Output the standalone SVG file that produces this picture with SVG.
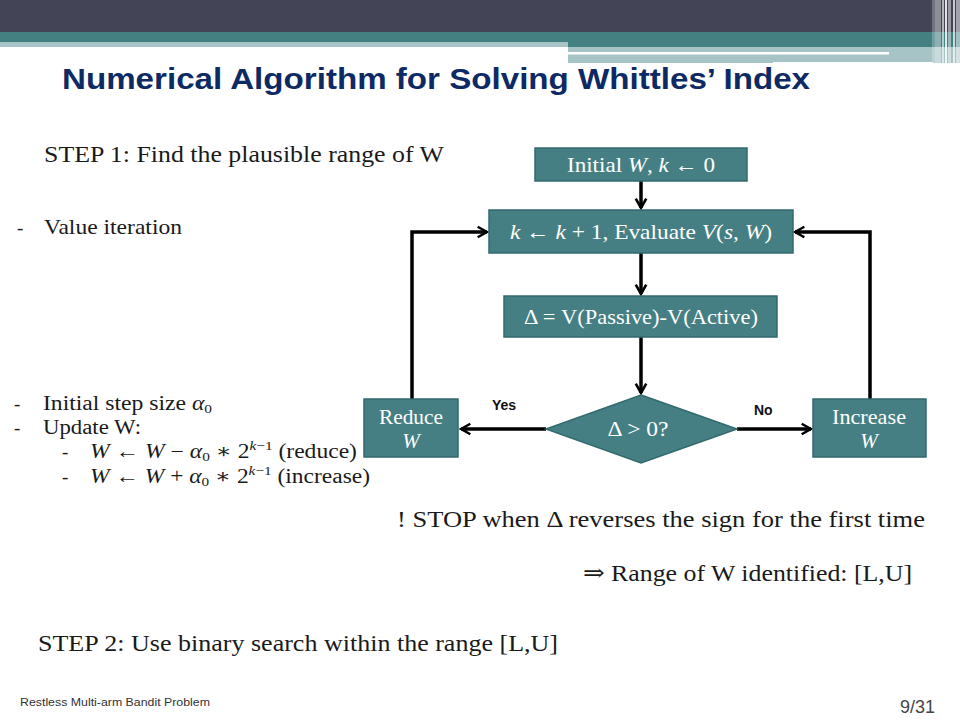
<svg xmlns="http://www.w3.org/2000/svg" width="960" height="720" viewBox="0 0 960 720">
<defs>
<style>
.box{fill:#467F83;stroke:#326A6D;stroke-width:1.5}
.bt{font-family:"Liberation Serif","DejaVu Serif",serif;font-size:21px;fill:#ffffff;text-anchor:middle}
.it{font-style:italic}
.con{fill:none;stroke:#000;stroke-width:3.5}
.txt{font-family:"Liberation Serif","DejaVu Serif",serif;fill:#1a1a1a}
.lbl{font-family:"Liberation Sans","DejaVu Sans",sans-serif;font-weight:bold;font-size:14px;fill:#111}
</style>
<marker id="arr" viewBox="0 0 12 12" refX="10" refY="6" markerWidth="4" markerHeight="4" orient="auto" markerUnits="strokeWidth">
<polyline points="2,1.5 10,6 2,10.5" fill="none" stroke="#000" stroke-width="2.2"/>
</marker>
</defs>
<rect width="960" height="720" fill="#ffffff"/>
<g id="header">
<rect x="0" y="0" width="960" height="32" fill="#434456"/>
<rect x="0" y="32" width="960" height="15" fill="#447F82"/>
<rect x="0" y="42" width="568" height="5" fill="#A6C3C5"/>
<rect x="568" y="47" width="392" height="16" fill="#A6C3C5"/>
<rect x="568" y="52" width="321" height="2.5" fill="#ffffff"/>
<rect x="773" y="62" width="160" height="2" fill="#ffffff"/>
<rect x="932" y="0" width="3" height="64" fill="#ffffff" opacity="0.25"/>
<rect x="935" y="0" width="6" height="64" fill="#ffffff" opacity="0.4"/>
<rect x="942" y="0" width="2" height="64" fill="#ffffff" opacity="0.6"/>
<rect x="945" y="0" width="2" height="64" fill="#ffffff" opacity="0.85"/>
<rect x="948" y="0" width="3" height="64" fill="#ffffff" opacity="0.45"/>
<rect x="953" y="0" width="2" height="64" fill="#ffffff" opacity="0.7"/>
<rect x="956" y="0" width="4" height="64" fill="#ffffff" opacity="0.5"/>
</g>
<text x="62" y="89" font-family="Liberation Sans,Arial,sans-serif" font-weight="bold" font-size="30" fill="#0E2A64" textLength="748" lengthAdjust="spacingAndGlyphs">Numerical Algorithm for Solving Whittles’ Index</text>

<g id="notes" class="txt">
<text x="44" y="162" font-size="24" textLength="400" lengthAdjust="spacingAndGlyphs">STEP 1: Find the plausible range of W</text>
<text x="17" y="234" font-size="19">-</text>
<text x="44" y="234" font-size="21" textLength="138" lengthAdjust="spacingAndGlyphs">Value iteration</text>
<text x="14" y="410" font-size="19">-</text>
<text x="43" y="410" font-size="20" textLength="169" lengthAdjust="spacingAndGlyphs">Initial step size <tspan font-style="italic">α</tspan><tspan font-size="13" dy="3">0</tspan></text>
<text x="14" y="434" font-size="19">-</text>
<text x="43" y="434" font-size="20" textLength="98" lengthAdjust="spacingAndGlyphs">Update W:</text>
<text x="62" y="458" font-size="19">-</text>
<text x="90" y="458" font-size="20" textLength="267" lengthAdjust="spacingAndGlyphs"><tspan font-style="italic">W</tspan> ← <tspan font-style="italic">W</tspan> − <tspan font-style="italic">α</tspan><tspan font-size="13" dy="3">0</tspan><tspan dy="-3"> ∗ 2</tspan><tspan font-size="13" dy="-8"><tspan font-style="italic">k</tspan>−1</tspan><tspan dy="8"> (reduce)</tspan></text>
<text x="62" y="483" font-size="19">-</text>
<text x="90" y="483" font-size="20" textLength="280" lengthAdjust="spacingAndGlyphs"><tspan font-style="italic">W</tspan> ← <tspan font-style="italic">W</tspan> + <tspan font-style="italic">α</tspan><tspan font-size="13" dy="3">0</tspan><tspan dy="-3"> ∗ 2</tspan><tspan font-size="13" dy="-8"><tspan font-style="italic">k</tspan>−1</tspan><tspan dy="8"> (increase)</tspan></text>
<text x="397" y="527" font-size="24" textLength="528" lengthAdjust="spacingAndGlyphs">! STOP when Δ reverses the sign for the first time</text>
<text x="583" y="581" font-size="24" textLength="329" lengthAdjust="spacingAndGlyphs">⇒ Range of W identified: [L,U]</text>
<text x="38" y="651" font-size="24" textLength="520" lengthAdjust="spacingAndGlyphs">STEP 2: Use binary search within the range [L,U]</text>
</g>

<g id="connectors">
<line class="con" x1="641" y1="181" x2="641" y2="208" marker-end="url(#arr)"/>
<line class="con" x1="641" y1="253" x2="641" y2="294" marker-end="url(#arr)"/>
<line class="con" x1="641" y1="337" x2="641" y2="393" marker-end="url(#arr)"/>
<line class="con" x1="546" y1="429" x2="461" y2="429" marker-end="url(#arr)"/>
<line class="con" x1="737" y1="429" x2="811" y2="429" marker-end="url(#arr)"/>
<polyline class="con" points="412,399 412,232 487,232" marker-end="url(#arr)"/>
<polyline class="con" points="870,399 870,232 795,232" marker-end="url(#arr)"/>
<text class="lbl" x="492" y="410">Yes</text>
<text class="lbl" x="754" y="415">No</text>
</g>

<g id="n-init">
<rect class="box" x="535" y="148" width="212" height="33"/>
<text class="bt" x="641" y="172" textLength="148" lengthAdjust="spacingAndGlyphs">Initial <tspan class="it">W</tspan>, <tspan class="it">k</tspan> ← 0</text>
</g>
<g id="n-eval">
<rect class="box" x="489" y="210" width="304" height="43"/>
<text class="bt" x="641" y="239" textLength="262" lengthAdjust="spacingAndGlyphs"><tspan class="it">k</tspan> ← <tspan class="it">k</tspan> + 1, Evaluate <tspan class="it">V</tspan>(<tspan class="it">s</tspan>, <tspan class="it">W</tspan>)</text>
</g>
<g id="n-delta">
<rect class="box" x="504" y="296" width="273" height="41"/>
<text class="bt" x="641" y="324" textLength="234" lengthAdjust="spacingAndGlyphs">Δ = V(Passive)-V(Active)</text>
</g>
<g id="n-decision">
<polygon class="box" points="641,395 737,429 641,463 546,429"/>
<text class="bt" x="638" y="436" textLength="61" lengthAdjust="spacingAndGlyphs">Δ &gt; 0?</text>
</g>
<g id="n-reduce">
<rect class="box" x="364" y="399" width="94" height="58"/>
<text class="bt" x="411" y="424" textLength="64" lengthAdjust="spacingAndGlyphs">Reduce</text>
<text class="bt it" x="411" y="448">W</text>
</g>
<g id="n-increase">
<rect class="box" x="813" y="399" width="113" height="58"/>
<text class="bt" x="869" y="424" textLength="74" lengthAdjust="spacingAndGlyphs">Increase</text>
<text class="bt it" x="869" y="448">W</text>
</g>

<g id="footer">
<text x="20" y="706" font-family="Liberation Sans,Arial,sans-serif" font-size="11" fill="#333" textLength="190" lengthAdjust="spacingAndGlyphs">Restless Multi-arm Bandit Problem</text>
<text x="935" y="713" font-family="Liberation Sans,Arial,sans-serif" font-size="18" fill="#444" text-anchor="end">9/31</text>
</g>
</svg>
